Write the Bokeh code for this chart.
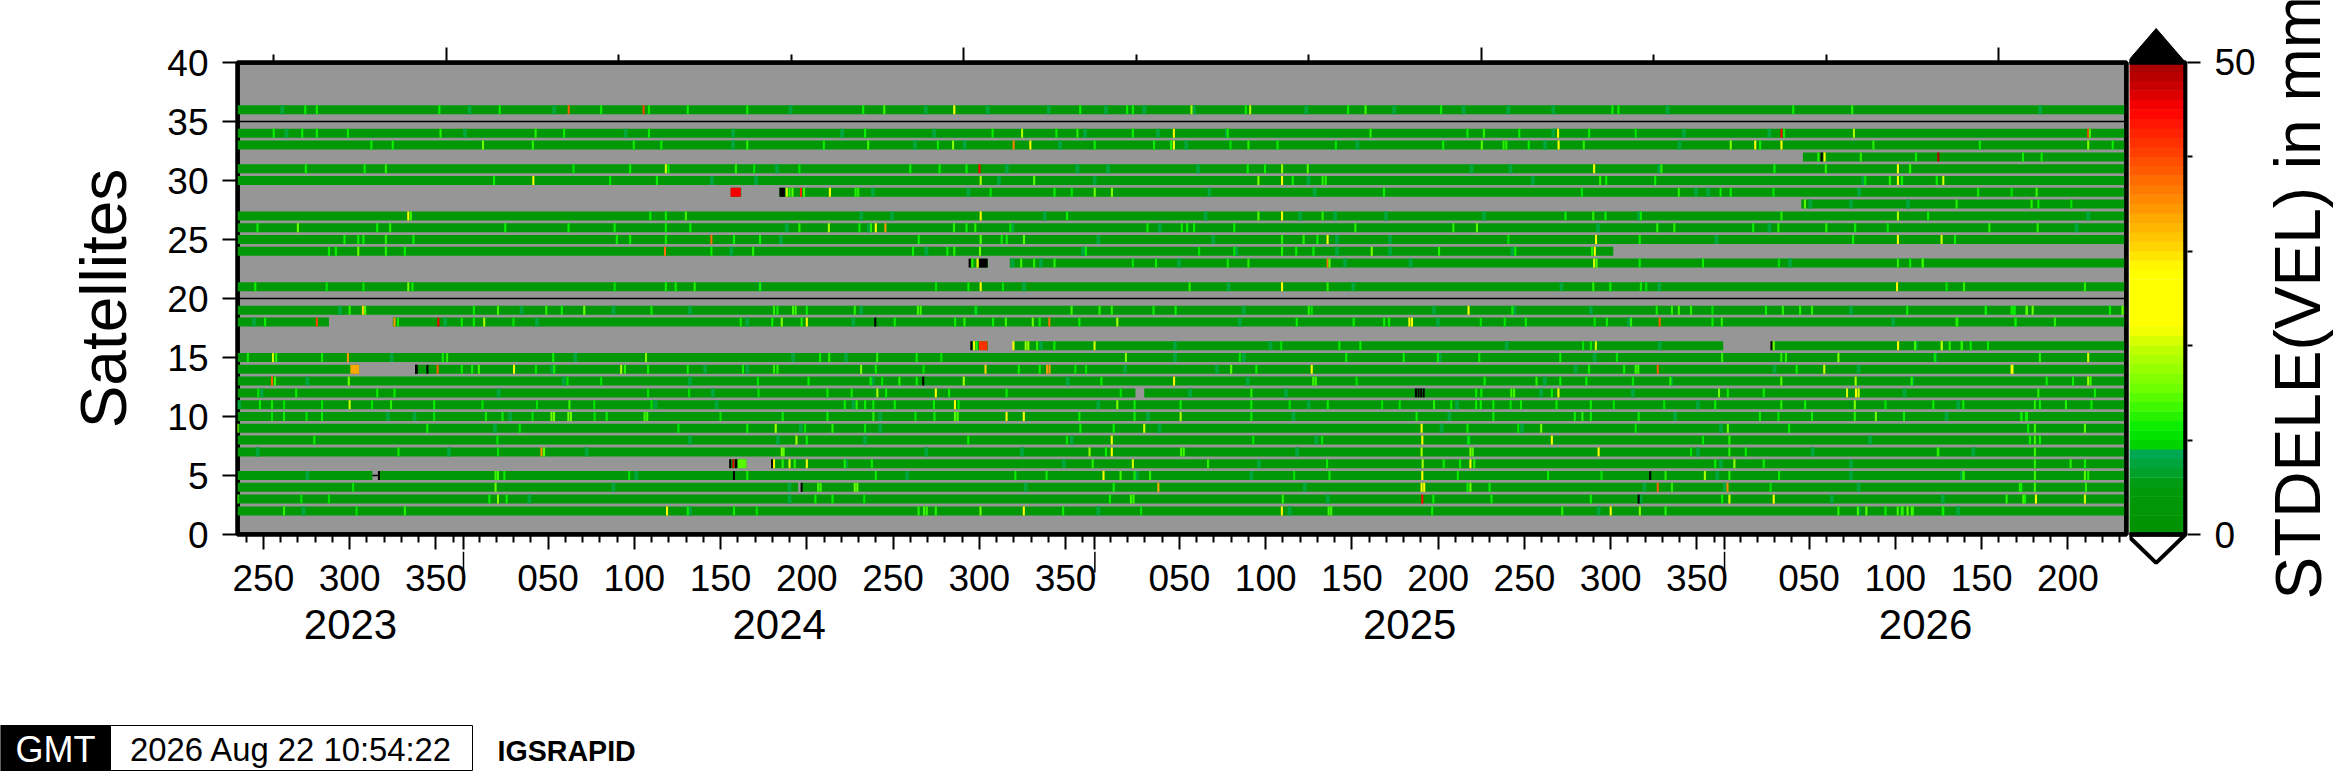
from bokeh.plotting import figure
from bokeh.layouts import row, column
from bokeh.embed import file_html
from bokeh.resources import INLINE
from bokeh.models import ColumnDataSource, LinearColorMapper, FixedTicker, LinearAxis, Range1d
from bokeh.core.properties import value

# x values: days since 2024-01-01 (DOY axis); y values: satellite number
DAY_MIN, DAY_MAX = -131, 964
YEARS = [2023, 2024, 2025, 2026]
YEAR_START = [-365, 0, 366, 731]
YEAR_END = [0, 366, 731, 964]
SAT_MIN, SAT_MAX = 0, 40
BASE_VALUE = 3.5
TEAL_VALUE = 7

FULL = [(DAY_MIN, DAY_MAX)]
# (day, value in mm); value above 50 plots black
S36 = [(-91.7,11),(-85,11),(-14,11),(21,11),(61,38),(79.8,11),(104.4,40),(107.5,11),(130,11),(164.5,11),(231.7,11),(243.9,13),(284.5,22),(357.5,11),(384.7,11),(388,11),(422,18),(453.5,11),(456,18),(512.8,11),(522.9,13),(566.7,11),(666,11),(669.5,11),(770.8,11),(805,12)]
S34 = [(-110,11),(-93.5,11),(-85,11),(-67,11),(-13.3,12),(41.8,12),(58.3,11),(107.5,11),(232.8,11),(306.7,11),(323.8,18),(343.7,11),(355.9,12),(388,11),(411.8,28),(443,11),(525.8,12),(582,11),(591.5,12),(612,11),(634.5,24),(652.5,11),(679.5,10),(764,44),(765.5,11),(806,18),(941.8,40),(942.8,13)]
S33 = [(-53.4,11),(-41,11),(11.3,15),(40.2,12),(98.7,11),(114.7,11),(164.5,12),(208.9,11),(234.6,13),(275,11),(283.8,16),(318.9,36),(328.6,28),(365.9,11),(400.3,11),(410.2,12),(411.8,26),(444.6,10),(455,12),(471.9,11),(505.7,10),(567.9,11),(590.3,14),(602.9,12),(604.5,12),(617.5,11),(634.8,25),(649.4,12),(734.6,16),(748.8,24),(751.6,11),(764,22),(817.3,12),(879,11),(941.8,16),(956,11)]
S32 = [(785.4,12),(787.3,60),(789,24),(810,12),(842,11),(854.9,48),(904,11),(914.8,11)]
S31 = [(-91.4,11),(-57.3,11),(-45,12),(63.8,10),(96.6,11),(117.3,20),(118.8,11),(157.9,12),(168.5,10),(194.7,10),(259,11),(276,11),(291.6,11),(299.1,44),(454.6,11),(464.6,11),(474.5,17),(489.4,14),(655.4,26),(694.4,12),(759.9,11),(789.7,12),(831.5,22),(838.6,12),(838.5,12)]
S30 = [(17.7,11),(40.5,24),(85,10),(112.1,11),(299.8,18),(330.8,14),(460.8,16),(474.5,24),(480.7,11),(498,12),(499.8,12),(658.9,12),(662.4,11),(690.8,11),(812.6,10),(826.8,12),(831.5,24),(833.9,11),(833.7,11),(854,11),(857.8,20)]
S29 = [(187.4,20),(190.7,14),(189,12),(195.6,42),(197.4,13),(212.4,24),(227.3,12),(228.8,12),(305.6,10),(342.6,11),(352.6,10),(365.9,15),(375.9,16),(533.6,11),(648.3,10),(704.5,12),(728.7,11),(734.6,11),(759.4,10),(878,11),(897.4,10),(911.9,13)]
S28 = [(777.6,14),(865.5,12),(909,12),(912.9,11),(932,10)]
S27 = [(-32,22),(-30.5,13),(108.3,11),(117.3,11),(128.9,13),(299.8,24),(349.9,11),(460.8,14),(474.5,24),(498,12),(638.8,11),(654.9,12),(662,11),(682.5,11),(764,12),(831.5,18),(849,11)]
S26 = [(-119.4,11),(-96,15),(-50,11),(-42.5,12),(24.2,11),(60.9,11),(87.6,11),(117.3,11),(131.5,11),(194.7,12),(211.8,18),(229.5,11),(236.2,12),(239,22),(244.6,34),(284.3,12),(291.6,11),(296.7,12),(317,10),(396.5,11),(416.4,11),(419.5,11),(423.5,11),(446.8,11),(517,12),(573.8,12),(587.5,14),(692,12),(701.9,12),(747.6,11),(762.2,12),(790,12),(806.7,11),(825.6,10),(884.5,12),(912.5,12)]
S25 = [(-69,11),(-61,11),(-58,11),(-45,12),(-29,11),(88.9,11),(96.6,11),(117.3,11),(143.7,37),(156.8,11),(171.9,11),(263.9,11),(299.8,14),(312,11),(314.9,11),(324.9,14),(474.5,12),(487,12),(495,11),(500.9,22),(605.7,10),(656.5,24),(681.8,11),(805.5,11),(831.5,24),(856.8,20),(864.6,11)]
S24 = [(-78,11),(-74,11),(-61,15),(-45,12),(-34,11),(116.8,37),(143.7,11),(167.9,12),(260.6,11),(280.5,11),(284.5,12),(299.4,15),(360.8,11),(426.4,10),(446.8,10),(474.5,12),(482.7,11),(492.7,11),(526.5,16),(565.5,12),(609.7,11),(654.2,12),(655.8,25)]
S23 = [(293.4,60),(295,12),(298,24),(323.3,13),(330.8,12),(342.6,12),(388,10),(401.4,11),(443,11),(455,12),(500.9,37),(502,14),(655.4,20),(656.8,14),(681.8,11),(718.5,11),(762.5,10),(831.5,12),(838.6,11),(846,11),(845.8,13)]
S21 = [(-120.7,11),(-79.3,10),(-58,10),(-32,15),(-29.6,11),(87.6,10),(117.3,11),(123,11),(134,12),(171.9,11),(273.9,10),(292.7,11),(299.8,24),(312.7,10),(420.9,12),(474.5,24),(500.9,12),(654.9,12),(664.8,11),(682.5,11),(685.6,10),(831,28),(859.7,10),(869.8,12),(939.9,12)]
S19 = [(-66,12),(-58.3,30),(-57,14),(6,11),(20,13),(48,12),(57,11),(70,15),(109,11),(180,12),(182,11),(191,13),(192.5,13),(199,11),(226.8,12),(263.4,13),(265,13),(297,10),(352.5,13),(368.7,12),(375.8,12),(400,11),(412.8,11),(490,12),(491.7,10),(582.6,22),(608,11),(691.7,11),(700.5,12),(704.5,13),(711.6,12),(724,10),(755,11),(764.8,12),(774.8,12),(781.7,12),(836.9,11),(882.4,11),(882.5,11),(897.4,11),(899.3,10),(898.5,11),(906,13),(906.3,14),(909.6,15),(954.4,11),(961.7,15)]
S18 = [(-115,11),(-85,40),(-40,34),(-38,11),(-14.6,45),(-1,11),(6,11),(12,18),(29,10),(160.7,11),(179,11),(184.5,16),(196,12),(199,24),(238.7,60),(250,11),(285,11),(290.4,12),(307,11),(314.4,13),(330,15),(334,11),(339.6,37),(357,11),(379,18),(483,11),(516,11),(533.7,11),(536.5,11),(548.3,24),(549.8,24),(589.7,10),(603.6,10),(615.8,11),(655.7,10),(662.8,11),(676.8,12),(693.4,38),(724,11),(729.4,12),(866,11),(865.5,12),(899.6,10),(899.7,11),(922.5,12)]
S16 = [(294.4,60),(296,24),(297.5,12),(318.8,24),(325.9,17),(327.4,17),(332.5,12),(342.5,11),(365.8,20),(474,10),(507.7,11),(519.9,11),(649,10),(653.5,11),(656.4,20),(758.2,60),(759.5,15),(831.6,24),(841.6,11),(841.4,13),(856.8,15),(857,18),(861.5,12),(868.6,12),(868.4,12),(873.7,11),(883.7,11)]
S15 = [(-125,11),(-110.4,20),(-108.6,12),(-82,11),(-67,34),(-12,11),(-9.5,12),(52,11),(105.8,16),(206.7,11),(212,12),(239.8,12),(262.7,11),(277,10),(384,16),(450,10),(511.7,11),(545,11),(564.8,11),(588.8,11),(635.8,11),(668.6,10),(729.6,12),(763.9,12),(766.6,12),(797,16),(853,10),(913.8,12),(941.8,20)]
S14 = [(-27.5,60),(-20.9,60),(-15,38),(-1,11),(5,11),(8.9,13),(29.3,24),(42,10),(52.6,11),(91.4,18),(93.6,12),(107,11),(130,11),(162,11),(180,12),(182,12),(230.5,16),(239,11),(266.7,10),(302.6,30),(321.9,11),(334,11),(338.3,34),(339.7,34),(354.7,10),(360.9,10),(445,14),(459.6,11),(491.7,27),(652.4,11),(672.8,11),(679.5,13),(681,13),(692.3,38),(772.8,11),(788.8,20),(897.4,24),(897.9,24)]
S13 = [(-111,38),(-109.3,13),(-66.5,15),(60.3,10),(79.8,10),(170.7,10),(200,11),(236,11),(242.7,10),(252.7,12),(262.7,11),(266.5,60),(290,18),(369.8,11),(411.9,28),(492.6,13),(494,13),(517.7,10),(591.9,11),(622,12),(635.8,11),(650.9,11),(677.9,10),(699.6,12),(763.9,14),(807,18),(839.5,12),(917.7,11),(933,11),(941.8,18),(943.2,13)]
S12 = [(-119,10),(-97,11),(-50,11),(-40,11),(107,10),(130.8,10),(171,10),(211,11),(225,11),(239.9,18),(245,11),(273.8,24),(281.5,11),(314.8,11),(381,10),(456.7,12),(552.1,60),(553.6,60),(555.1,60),(556.6,60),(587,11),(590,11),(607.4,13),(609,13),(630.9,11),(634.7,24),(727.8,15),(732.9,11),(753.7,11),(802,20),(807.2,24),(808.7,20),(912.9,12),(945.7,11)]
S11 = [(-118,11),(-111,11),(-104,10),(-82,10),(-66,20),(-53,10),(-42,12),(-17,11),(11,10),(42.6,10),(61.4,13),(75.8,10),(109,10),(221,11),(227.9,12),(232.8,11),(237.6,11),(250,11),(272.7,11),(284.9,24),(287,11),(379,16),(389,11),(415.7,11),(456.7,11),(478.9,10),(501,11),(532.5,10),(542.7,10),(562.6,12),(572.6,11),(587,11),(589.7,11),(597,11),(607,10),(613,11),(633.6,11),(653.5,11),(666.8,10),(696,10),(725.6,11),(763.9,12),(777.7,11),(806.5,16),(824.3,10),(852,11),(869.4,11),(910.9,12),(913.8,11),(928.9,12),(943.7,11)]
S10 = [(-111,10),(-104,11),(-91,10),(-82,11),(-17,10),(13,11),(22.6,11),(40,10),(51,15),(52.5,15),(60.8,15),(62.3,15),(76,10),(83,11),(105,13),(106.5,13),(149,10),(185,11),(211,11),(237.6,12),(262,10),(273,11),(284.9,14),(286.4,14),(314.8,28),(324.8,25),(357,11),(389,11),(415.7,18),(456.7,11),(552.5,11),(597,11),(644.2,11),(648.6,12),(653.5,11),(681.2,11),(751.5,11),(762.2,10),(781.7,11),(806.5,12),(818.7,15),(835,11),(903,11),(903.2,11),(905.7,11),(906.3,11)]
S09 = [(-131,16),(-21,11),(32.6,10),(124.6,10),(164.5,11),(181,18),(198,10),(213.9,12),(232.8,10),(357.6,11),(376.9,11),(394.6,20),(555.4,22),(582,11),(611.4,10),(624.7,15),(679.5,10),(732.9,15),(768.4,11),(907,11),(910.9,13),(939.9,14)]
S08 = [(-86.5,11),(19.7,10),(193,18),(199,11),(292.6,11),(349.8,10),(375.8,26),(457.8,10),(497.7,10),(555.8,24),(582.6,11),(630.9,22),(718.5,10),(733.8,12),(908,11),(910.9,13),(913.8,11)]
S07 = [(-37.7,11),(20,10),(45.2,34),(46.7,14),(184.5,16),(185.6,14),(362.9,17),(372.4,11),(375.8,22),(416,13),(417.5,13),(555.4,18),(583.7,16),(585,14),(658,24),(711.6,10),(733.8,12),(743.3,11),(854.6,12),(854.9,12),(910.9,13)]
S06 = [(154.6,60),(156.5,46),(158,60),(180,24),(185,12),(189,20),(192,12),(199,24),(221,11),(236.7,11),(364.7,12),(388,20),(431.6,12),(500.6,11),(556,18),(568.2,11),(577.7,11),(583.7,26),(585.9,12),(725.6,11),(736.7,17),(753.7,11),(910.9,12),(931.6,12),(939.9,11)]
S05 = [(-49,60),(18.6,13),(20,13),(23.7,11),(96,10),(156.8,60),(164.5,11),(239,11),(319.9,11),(338,11),(371,24),(380.9,13),(389,11),(398,12),(481.5,10),(502,11),(555.8,24),(576.4,11),(628.7,11),(659.7,10),(687.9,60),(696.8,12),(719.6,18),(733.8,12),(762.6,11),(869.7,11),(869.4,12),(910.9,13),(939.9,14),(941.8,12)]
S04 = [(-64,10),(18.6,15),(196,60),(205.6,13),(207,13),(226.8,15),(228.3,15),(376.9,11),(402.8,33),(555.4,26),(556.9,24),(582,11),(583.7,15),(594.8,11),(692.3,38),(700.5,12),(732.7,35),(757.7,10),(902.2,12),(903,11),(910.9,13),(940.5,12)]
S03 = [(-131,13),(-94,10),(-78,10),(15,11),(20,16),(25,11),(204,11),(213.9,11),(232.3,10),(374.7,11),(386.9,13),(388.4,13),(474.9,12),(555.8,44),(562.2,11),(595.9,11),(653.5,11),(681.2,60),(729.6,11),(733.8,20),(759.5,22),(894.5,12),(905.2,11),(904.2,13),(911.5,24),(939.9,20)]
S02 = [(-104,12),(-62,10),(-34,12),(118,24),(130,11),(156.8,11),(170,10),(263.8,12),(267,13),(268.5,13),(273.8,12),(299.7,15),(324.8,24),(347.6,11),(392.8,10),(474.4,28),(501.5,13),(503,13),(561.5,11),(636.9,12),(665,25),(681.9,16),(696.8,12),(797,12),(808.3,13),(813.2,14),(824.3,11),(831.4,13),(834.2,13),(837.1,14),(840.2,12),(857.5,11),(833.7,12),(839.5,13),(857.8,11)]

# days with a slightly higher, teal-green reading
TEAL = {36:[-105,3.5,52.6,189.6,268,303.8,339.3,372.5,394.7,423.5,488.6,539.5,579.7,605.7,631.7,697.9,914],
        34:[-102.6,0.9,94,156.3,219.5,272.8,360.3,402.5,442.4,631.7,707.4,757],
        33:[156.3,261.7,290.5,345.9,419,518.2,627,705],
        31:[181.8,314.9,355.9,373.6,425.7,584.4,606.9,693.2],
        30:[144,169.6,310.4,365.9,489.8,619.9,811.4],
        29:[237.3,292.7,432.4,493.4,714.5,721.6,809],
        28:[780.7,804.3,837.4],
        27:[230.6,248.4,337,430.2,485.1,505.2,534.8,591.5,681.4,941.8],
        26:[187.4,235,318.2,403.6,657.7,757,935],
        25:[184,368,434.6,506.4,537.1,726.3],
        24:[155.2,268.3,359.2,447.9,506.4,537.1,608.1],
        23:[318.2,334.8,414.7,511.1,549,768.9],
        21:[171.9,324.9,443.5,515.8,636.4,693.2],
        19:[-71.6,33.7,87,131.3,230.5,297,452.3,562.6,609.2,653.5,804.3],
        18:[-121.5,-10.6,42.6,164.5,226,450,564.8,675.7,828.7],
        16:[334.8,412.4,467.8,604.7,693.4,842],
        15:[-41.7,64.8,191.1,221.7,412.4,452.3,565.9,655.7,853.1],
        14:[51.5,140.1,164.5,383.5,436.8,644.7,760,808.7],
        13:[-90.5,58.1,131.3,237.2,350.3,454.5,626.9,700.1,839.8],
        12:[-117,20.4,144.6,421.2,476.7,624.7,677.9,835.3],
        11:[-130,111.3,146.8,226.1,368,490,575.9,715.6,866.4],
        10:[-43.9,-28.4,27.1,241.6,396.8,481.1,571.5,702.3,859.7],
        9:[18.2,195.6,241.6,403.5,567,613.6,728.9],
        8:[131.3,182.3,232.8,352.5,494.4,582.6,815.4],
        7:[-119.3,-8.4,71.4,268.2,323.7,483.3,715.6,782.1,875.2],
        6:[221.7,348,461.1,728.9,804.3],
        5:[-90.5,100.2,257.1,390.2,456.7,726.7,804.3,868.6],
        4:[86.9,189,325.9,487.7,684.6,731.1,808.7],
        3:[38.2,189,501,682.3,793.2,857.5],
        2:[-92.7,131.3,368,478.9,658,808.7,866.4]}

COV = {36:FULL,34:FULL,33:FULL,32:[(776.4,964)],31:FULL,30:FULL,29:[(155,161),(183,964)],28:[(775.5,964)],
       27:FULL,26:FULL,25:FULL,24:[(-131,666.5)],23:[(293.4,304),(316.7,964)],21:FULL,19:FULL,
       18:[(-131,-78),(-41,964)],16:[(294.4,304),(318.8,730.2),(758.2,964)],15:FULL,
       14:[(-131,-60.5),(-28,964)],13:FULL,12:[(-131,389.5),(394.6,964)],11:FULL,10:FULL,9:FULL,8:FULL,7:FULL,
       6:[(154.6,164),(178.3,964)],5:[(-131,-52.8),(-49,964)],4:[(-131,194),(195.6,964)],3:FULL,2:FULL}
SPIKES = {36:S36,34:S34,33:S33,32:S32,31:S31,30:S30,29:S29,28:S28,27:S27,26:S26,25:S25,24:S24,23:S23,21:S21,
          19:S19,18:S18,16:S16,15:S15,14:S14,13:S13,12:S12,11:S11,10:S10,9:S09,8:S08,7:S07,6:S06,5:S05,4:S04,3:S03,2:S02}
# stretches of one value: satellite, first day, last day, value
BLOCK_SAT = [29, 29, 23, 16, 14, 14, 6, 6]
BLOCK_START = [154.8, 183.2, 298.9, 298.8, -65.6, -28, 159, 178.3]
BLOCK_END = [160.8, 186.3, 303.8, 303.7, -60.5, -26.5, 164, 179.6]
BLOCK_VAL = [45, 60, 60, 41, 33, 60, 14, 60]
# thin black lines: satellite, first day, last day
LINE_SAT = [35, 20, 5]
LINE_START = [-131, -131, -52.8]
LINE_END = [964, 964, -49]
# colour bar and stamp texts
CB_TITLE = "STDELE(VEL) in mm"
STAMP_TIME = "2026 Aug 22 10:54:22"
STAMP_NAME = "IGSRAPID"

FONT = "Liberation Sans"
STOPS = [(0,(0,145,0)),(5,(0,155,10)),(8.9,(0,170,90)),(9,(0,205,0)),(10,(0,220,0)),(11,(0,235,0)),(15,(100,255,0)),(20,(200,255,0)),
         (22,(255,255,0)),(28,(255,255,0)),(30,(255,220,0)),(32,(255,190,0)),(36,(255,130,0)),(40,(255,70,0)),
         (45,(255,0,0)),(48,(190,0,0)),(50,(165,0,0))]
def col(v):
    for (a,ca),(b,cb_) in zip(STOPS,STOPS[1:]):
        if a <= v <= b:
            t=(v-a)/(b-a)
            return "#%02x%02x%02x" % tuple(round(ca[i]+(cb_[i]-ca[i])*t) for i in range(3))
    return "#000000"
palette = [col(i+0.5) for i in range(50)]
mapper = LinearColorMapper(palette=palette, low=0, high=50, high_color="black", low_color=palette[0])

HALF = 0.38
SPIKE_W = 1.2
TEAL_W = 2.2
L,R,T,B,V = [],[],[],[],[]
def cell(s,a,b,v):
    L.append(a);R.append(b);T.append(s+HALF);B.append(s-HALF);V.append(v)
for s,cov in COV.items():
    for a,b in cov:
        cell(s,a,b,BASE_VALUE)
for s,days in TEAL.items():
    for d in days:
        cell(s,d-TEAL_W/2,d+TEAL_W/2,TEAL_VALUE)
for s,a,b,v in zip(BLOCK_SAT,BLOCK_START,BLOCK_END,BLOCK_VAL):
    cell(s,a,b,v)
for s,sp in SPIKES.items():
    for d,v in sp:
        cell(s,d-SPIKE_W/2,d+SPIKE_W/2,v)
src = ColumnDataSource(dict(left=L,right=R,top=T,bottom=B,value=V))

ROW_H = 700
P_H = 551
PX_PER_DAY = 1889/1095
xrange = Range1d(DAY_MIN,DAY_MAX)
p = figure(width=2129, height=P_H, output_backend="svg", toolbar_location=None,
           x_range=xrange, y_range=Range1d(SAT_MIN,SAT_MAX),
           min_border_left=237, min_border_right=3, min_border_top=62, min_border_bottom=P_H-62-472)
p.frame_align=False
p.grid.visible=False
p.background_fill_color="#969696"
p.border_fill_color="white"
p.outline_line_color="black"; p.outline_line_width=4.5
# inner half of the heavy frame, under the rows
p.quad(left=[DAY_MIN],right=[DAY_MAX],top=[SAT_MAX],bottom=[SAT_MIN],fill_color=None,line_color="black",line_width=4.5)
p.quad(left="left",right="right",top="top",bottom="bottom",source=src,
       fill_color={"field":"value","transform":mapper},line_color=None)
p.segment(x0=LINE_START,x1=LINE_END,y0=LINE_SAT,y1=LINE_SAT,line_color="black",line_width=1.5)
p.segment(x0=[DAY_MAX],x1=[DAY_MAX],y0=[SAT_MIN],y1=[SAT_MAX],line_color="black",line_width=4.5)

# left axis
ya=p.yaxis[0]
ya.ticker=FixedTicker(ticks=list(range(0,41,5)))
ya.axis_label="Satellites"
ya.axis_label_text_font=FONT; ya.axis_label_text_font_size="64px"; ya.axis_label_text_font_style="normal"
ya.axis_label_text_color="black"
ya.axis_label_standoff=24
ya.major_label_text_font=FONT; ya.major_label_text_font_size="37px"; ya.major_label_text_color="black"
ya.major_label_orientation="horizontal"
ya.major_tick_out=15; ya.major_tick_in=0; ya.major_tick_line_width=2
ya.minor_tick_line_color=None; ya.axis_line_color=None
ya.major_label_standoff=14

# bottom axis: day of year (labels are set under the ticks, in the strip below)
major,minor,doy=[],[],[]
for st_,en in zip(YEAR_START,YEAR_END):
    for d in range(10,370,10):
        x=st_+d-1
        if DAY_MIN<=x<=DAY_MAX and x<en:
            if d%50==0:
                major.append(x); doy.append("%03d"%d)
            else:
                minor.append(x)
bound=YEAR_START[1:]
xa=p.xaxis[0]
xa.ticker=FixedTicker(ticks=major+bound,minor_ticks=minor)
xa.major_label_overrides={t:"" for t in major+bound}
xa.major_label_text_font_size="1px"; xa.major_label_standoff=0
xa.major_tick_out=15; xa.major_tick_in=0; xa.major_tick_line_width=2
xa.minor_tick_out=8; xa.minor_tick_in=0; xa.minor_tick_line_width=2
xa.axis_line_color=None

# top axis: MJD marks, day offset from MJD 60310
TOP_LONG=[60300,60600,60900,61200]
TOP_SHORT=[60200,60400,60500,60700,60800,61000,61100]
top_ticks=[m-60310 for m in TOP_LONG]
ta=LinearAxis(ticker=FixedTicker(ticks=top_ticks,minor_ticks=[m-60310 for m in TOP_SHORT]),
              major_label_overrides={t:"" for t in top_ticks},
              major_label_text_font_size="1px",major_label_standoff=0,axis_line_color=None,
              major_tick_out=15,major_tick_in=0,major_tick_line_width=2,
              minor_tick_out=8,minor_tick_in=0,minor_tick_line_width=2)
p.add_layout(ta,"above")

# strip under the plot: day-of-year labels, year boundaries, year names (x shares the plot's scale)
sx=figure(width=2129,height=ROW_H-P_H,output_backend="svg",toolbar_location=None,
          x_range=Range1d(DAY_MIN-237/PX_PER_DAY,DAY_MAX+3/PX_PER_DAY),y_range=Range1d(ROW_H,P_H),
          x_axis_location=None,y_axis_location=None,min_border=0)
sx.frame_align=False
sx.grid.visible=False; sx.outline_line_color=None
sx.segment(x0=bound,x1=bound,y0=[P_H]*len(bound),y1=[572]*len(bound),line_color="black",line_width=1.5)
sx.text(x=major,y=[577]*len(major),text=doy,text_font=value(FONT),text_font_size="37px",text_color="black",
        text_align="center",text_baseline="middle")
ymid=[(max(a,DAY_MIN)+b)/2 for a,b in zip(YEAR_START,YEAR_END)]
sx.text(x=ymid,y=[624]*len(ymid),text=[str(y) for y in YEARS],text_font=value(FONT),text_font_size="42px",
        text_color="black",text_align="center",text_baseline="middle")

# colour bar
CB_MIN,CB_MAX=0,50
cb=figure(width=131,height=ROW_H,output_backend="svg",toolbar_location=None,
          x_range=Range1d(0.046,1.034),y_range=Range1d(-3.6,53.81),
          y_axis_location="right",
          min_border_left=0,min_border_right=73,min_border_top=26,min_border_bottom=ROW_H-568)
cb.frame_align=False
cb.grid.visible=False; cb.outline_line_color=None; cb.xaxis.visible=False
levels=list(range(CB_MIN,CB_MAX))
cb.quad(left=0,right=1,bottom=levels,top=[v+1.05 for v in levels],fill_color=palette,line_color=None)
cb.patch([0,1,0.5],[50,50,53.6],fill_color="black",line_color="black",line_width=1)
cb.patch([0,1,0.5],[0,0,-3.0],fill_color="white",line_color="black",line_width=4)
cb.line([0,1,1,0,0],[0,0,50,50,0],line_color="black",line_width=4.5)
ca=cb.yaxis[0]
ca.bounds=(CB_MIN,CB_MAX)
ca.ticker=FixedTicker(ticks=[0,50],minor_ticks=[10,20,30,40])
ca.axis_line_color=None
ca.major_tick_out=13; ca.major_tick_in=0; ca.major_tick_line_width=2
ca.minor_tick_out=5; ca.minor_tick_in=0; ca.minor_tick_line_width=2
ca.major_label_text_font=FONT; ca.major_label_text_font_size="37px"; ca.major_label_text_color="black"
ca.major_label_orientation="horizontal"; ca.major_label_standoff=14

# colour bar title (rotated, in its own strip)
tf=figure(width=78,height=ROW_H,output_backend="svg",toolbar_location=None,
          x_range=Range1d(2260,2338),y_range=Range1d(ROW_H,0),
          x_axis_location=None,y_axis_location=None,min_border=0)
tf.frame_align=False
tf.grid.visible=False; tf.outline_line_color=None
tf.text(x=[2298],y=[599],text=[CB_TITLE],angle=1.5708,text_font=value(FONT),text_font_size="64px",
        text_align="left",text_baseline="alphabetic",text_color="black")

# stamp
st=figure(width=2338,height=71,output_backend="svg",toolbar_location=None,
          x_range=Range1d(0,2338),y_range=Range1d(771,700),
          x_axis_location=None,y_axis_location=None,min_border=0)
st.frame_align=False
st.grid.visible=False; st.outline_line_color=None
st.quad(left=[0],right=[110],top=[725],bottom=[771],fill_color="black",line_color="black")
st.quad(left=[110],right=[472],top=[725],bottom=[770],fill_color="white",line_color="black",line_width=1)
st.text(x=[55],y=[749],text=["GMT"],text_font=value(FONT),text_font_size="36px",text_color="white",
        text_align="center",text_baseline="middle")
st.text(x=[291],y=[749],text=[STAMP_TIME],text_font=value(FONT),text_font_size="32.8px",text_color="black",
        text_align="center",text_baseline="middle")
st.text(x=[497],y=[750],text=[STAMP_NAME],text_font=value(FONT),text_font_size="28.6px",text_font_style="bold",
        text_color="black",text_align="left",text_baseline="middle")

open("out.html","w").write(file_html(column(row(column(p,sx),cb,tf),st),INLINE))
